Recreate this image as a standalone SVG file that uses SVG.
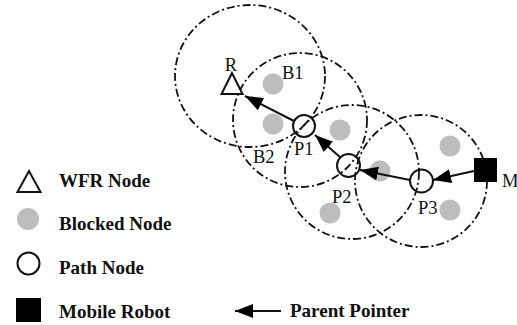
<svg xmlns="http://www.w3.org/2000/svg" width="517" height="325" viewBox="0 0 517 325">
  <style>
    .range { fill: none; stroke: #111; stroke-width: 1.8; stroke-dasharray: 8 3 2 3; }
    .blocked { fill: #bdbdbd; stroke: none; }
    .path { fill: none; stroke: #111; stroke-width: 2; }
    .wfr { fill: #fff; stroke: #111; stroke-width: 2; stroke-linejoin: miter; }
    .robot { fill: #000; }
    .ptr { stroke: #111; stroke-width: 2; fill: none; marker-end: url(#head); }
    .lbl { font-family: "Liberation Serif", "Times New Roman", serif; font-size: 18.5px; fill: #111; }
    .key { font-family: "Liberation Serif", "Times New Roman", serif; font-size: 19px; font-weight: bold; fill: #111; }
  </style>
  <defs>
    <marker id="head" viewBox="0 0 18 14" refX="18" refY="7" markerWidth="18" markerHeight="14" markerUnits="userSpaceOnUse" orient="auto">
      <path d="M0,0 L18,7 L0,14 Z" fill="#000"/>
    </marker>
  </defs>
  <rect width="517" height="325" fill="#fff"/>

  <!-- communication ranges -->
  <g id="ranges">
    <ellipse class="range" cx="250" cy="76" rx="75" ry="71"/>
    <circle class="range" cx="300" cy="120" r="67"/>
    <circle class="range" cx="352" cy="172" r="67"/>
    <circle class="range" cx="421" cy="181" r="66"/>
  </g>

  <!-- blocked nodes -->
  <g id="blocked">
    <circle class="blocked" cx="273" cy="84" r="10.5"/>
    <circle class="blocked" cx="273" cy="124" r="10.5"/>
    <circle class="blocked" cx="340" cy="130" r="10.5"/>
    <circle class="blocked" cx="380" cy="171" r="10.5"/>
    <circle class="blocked" cx="330" cy="213" r="10.5"/>
    <circle class="blocked" cx="450" cy="146" r="10.5"/>
    <circle class="blocked" cx="450" cy="210" r="10.5"/>
  </g>

  <!-- parent pointers -->
  <g id="connectors">
    <line class="ptr" x1="294" y1="121" x2="245" y2="96"/>
    <line class="ptr" x1="341" y1="158" x2="315" y2="135"/>
    <line class="ptr" x1="410" y1="180" x2="360" y2="170"/>
    <line class="ptr" x1="474" y1="171" x2="433" y2="180"/>
  </g>

  <g id="R">
    <polygon class="wfr" points="232,73 221.5,94 242.5,94"/>
    <text class="lbl" x="231" y="71" text-anchor="middle">R</text>
  </g>
  <g id="B1"><text class="lbl" x="282" y="79">B1</text></g>
  <g id="B2"><text class="lbl" x="253" y="163">B2</text></g>
  <g id="P1">
    <circle class="path" cx="304" cy="126" r="11"/>
    <text class="lbl" x="294" y="155">P1</text>
  </g>
  <g id="P2">
    <circle class="path" cx="348.5" cy="165.5" r="11.5"/>
    <text class="lbl" x="332" y="203">P2</text>
  </g>
  <g id="P3">
    <circle class="path" cx="421.5" cy="181" r="11.5"/>
    <text class="lbl" x="418" y="214">P3</text>
  </g>
  <g id="M">
    <rect class="robot" x="474" y="158" width="23" height="24"/>
    <text class="lbl" x="502" y="187">M</text>
  </g>

  <!-- legend -->
  <g id="legend">
    <polygon class="wfr" points="29,171 17.5,192 40.5,192"/>
    <text class="key" x="59" y="187">WFR Node</text>
    <circle class="blocked" cx="28" cy="219" r="11"/>
    <text class="key" x="59" y="230">Blocked Node</text>
    <circle class="path" cx="28.5" cy="263.5" r="11"/>
    <text class="key" x="59" y="274">Path Node</text>
    <rect class="robot" x="16" y="298" width="25" height="24"/>
    <text class="key" x="59" y="318">Mobile Robot</text>
    <line class="ptr" x1="281" y1="311" x2="235" y2="311"/>
    <text class="key" x="290" y="317">Parent Pointer</text>
  </g>
</svg>
